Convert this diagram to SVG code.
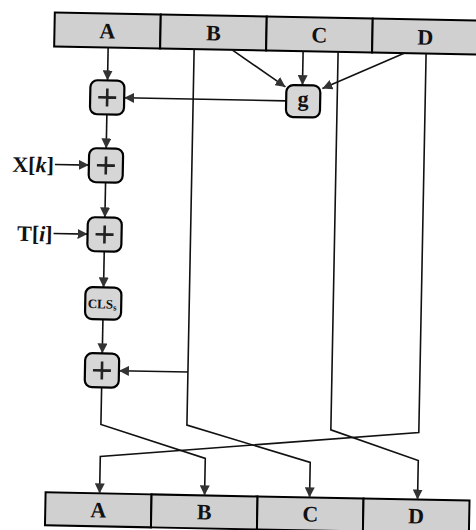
<svg xmlns="http://www.w3.org/2000/svg" width="476" height="530" viewBox="0 0 476 530">
<style>
.reg{fill:#d0d0d0;stroke:#000;stroke-width:2}
.box{fill:#d6d6d6;stroke:#000;stroke-width:2.2}
.lbl{font-family:"Liberation Serif","DejaVu Serif",serif;font-weight:bold;font-size:22px;fill:#111;text-anchor:middle}
.side{font-family:"Liberation Serif","DejaVu Serif",serif;font-weight:bold;font-size:22px;fill:#111;text-anchor:end}
.cls{font-family:"Liberation Serif","DejaVu Serif",serif;font-weight:bold;font-size:13px;fill:#111;text-anchor:middle}
.plus{stroke:#222;stroke-width:2.6;fill:none}
.con{stroke:#111;stroke-width:1.6;fill:none}
.arr{marker-end:url(#ah)}
</style>
<defs>
<marker id="ah" viewBox="0 0 10 10" refX="10" refY="5" markerWidth="10" markerHeight="10" markerUnits="userSpaceOnUse" orient="auto">
<path d="M0,0 L10,5 L0,10 z" fill="#333"/>
</marker>
</defs>
<rect width="476" height="530" fill="#fff"/>
<g transform="rotate(1.1 238 265)">
<g id="reg-top">
<rect class="reg" x="50" y="16" width="106" height="34"/>
<rect class="reg" x="156" y="16" width="106" height="34"/>
<rect class="reg" x="262" y="16" width="106" height="34"/>
<rect class="reg" x="368" y="16" width="106" height="34"/>
<text class="lbl" x="103" y="41">A</text>
<text class="lbl" x="209" y="41">B</text>
<text class="lbl" x="315" y="41">C</text>
<text class="lbl" x="421" y="41">D</text>
</g>
<g id="reg-bottom">
<rect class="reg" x="50" y="496" width="106" height="33"/>
<rect class="reg" x="156" y="496" width="106" height="33"/>
<rect class="reg" x="262" y="496" width="106" height="33"/>
<rect class="reg" x="368" y="496" width="106" height="33"/>
<text class="lbl" x="103" y="520">A</text>
<text class="lbl" x="209" y="520">B</text>
<text class="lbl" x="315" y="520">C</text>
<text class="lbl" x="421" y="520">D</text>
</g>
<g id="connectors">
<path class="con arr" d="M104,50 V83"/>
<path class="con arr" d="M104,117 V151"/>
<path class="con arr" d="M104,185 V220"/>
<path class="con arr" d="M104,254 V290"/>
<path class="con arr" d="M104,322 V356"/>
<path class="con arr" d="M53,168 H87"/>
<path class="con arr" d="M53,237 H87"/>
<path class="con arr" d="M228,50 L282,86"/>
<path class="con arr" d="M299,50 V84"/>
<path class="con arr" d="M400,50 L319,87"/>
<path class="con arr" d="M283,100 H121"/>
<path class="con arr" d="M190,50 V426 L314,461 V496"/>
<path class="con arr" d="M190,373 H121"/>
<path class="con arr" d="M334,50 V428 L422,457 V496"/>
<path class="con arr" d="M422,50 V429 L104,459 V496"/>
<path class="con arr" d="M104,390 V427 L209,459 V496"/>
</g>
<g id="add1">
<rect class="box" x="87" y="83" width="34" height="34" rx="7"/>
<path class="plus" d="M95,100 H113 M104,91 V109"/>
</g>
<g id="g">
<rect class="box" x="283" y="84" width="34" height="32" rx="7"/>
<text class="lbl" x="300" y="105">g</text>
</g>
<g id="add2">
<rect class="box" x="87" y="151" width="34" height="34" rx="7"/>
<path class="plus" d="M95,168 H113 M104,159 V177"/>
</g>
<g id="xk">
<text class="side" x="52" y="176">X[<tspan font-style="italic">k</tspan>]</text>
</g>
<g id="add3">
<rect class="box" x="87" y="220" width="34" height="34" rx="7"/>
<path class="plus" d="M95,237 H113 M104,228 V246"/>
</g>
<g id="ti">
<text class="side" x="52" y="245">T[<tspan font-style="italic">i</tspan>]</text>
</g>
<g id="cls">
<rect class="box" x="86" y="290" width="36" height="32" rx="7"/>
<text class="cls" x="103" y="311">CLS<tspan font-size="9" dy="2">s</tspan></text>
</g>
<g id="add4">
<rect class="box" x="87" y="356" width="34" height="34" rx="7"/>
<path class="plus" d="M95,373 H113 M104,364 V382"/>
</g>
</g>
</svg>
